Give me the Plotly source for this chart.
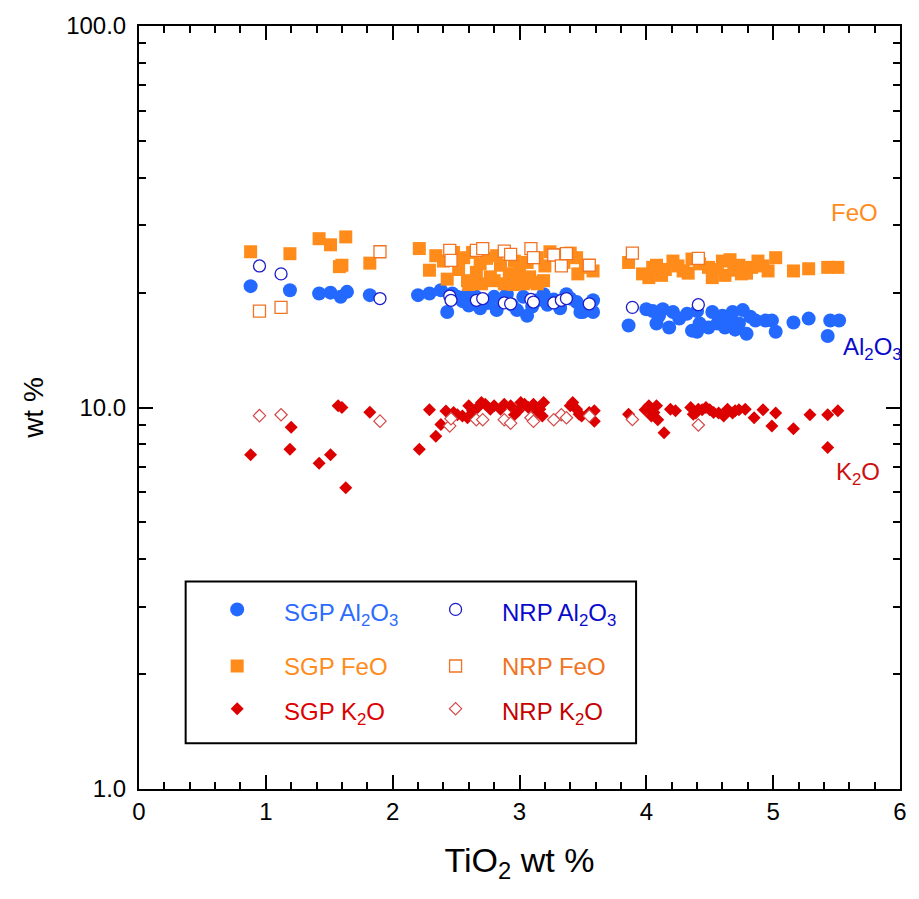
import plotly.graph_objects as go

# ---------------- data (wt %) ----------------
sgp_al_x = [0.88, 1.19, 1.42, 1.51, 1.59, 1.64, 1.82,
            2.20, 2.29, 2.38, 2.43, 2.47, 2.51, 2.55, 2.59, 2.60, 2.65, 2.69, 2.75, 2.80,
            2.82, 2.86, 2.90, 2.94, 2.98, 3.03, 3.06, 3.10, 3.14, 3.19, 3.22, 3.27, 3.32,
            3.37, 3.40, 3.45, 3.48, 3.50, 3.53, 3.58, 3.58,
            3.86, 4.00, 4.05, 4.08, 4.10, 4.13, 4.18, 4.21, 4.26, 4.32, 4.36, 4.40, 4.40,
            4.42, 4.49, 4.52, 4.56, 4.60, 4.62, 4.65, 4.68, 4.70, 4.73, 4.76, 4.79, 4.82,
            4.86, 4.94, 4.99, 5.02, 5.16, 5.28, 5.43, 5.45, 5.52]
sgp_al_y = [20.8, 20.3, 19.9, 20.0, 19.5, 20.1, 19.7,
            19.7, 19.9, 20.3, 17.8, 19.9, 19.5, 19.0, 19.8, 18.5, 19.6, 18.2, 18.8, 19.5,
            18.0, 19.2, 19.8, 18.6, 18.0, 19.5, 17.4, 18.4, 19.1, 19.8, 18.6, 19.2, 18.2,
            19.8, 19.3, 18.9, 17.8, 17.8, 18.4, 19.1, 17.8,
            16.4, 18.1, 17.9, 16.6, 17.4, 18.1, 16.2, 17.8, 17.1, 17.6, 15.9, 17.9, 15.8,
            16.6, 16.2, 17.8, 16.6, 17.4, 16.2, 17.0, 17.8, 16.0, 16.6, 18.0, 15.6, 17.3,
            16.9, 16.9, 16.9, 15.8, 16.7, 17.1, 15.4, 16.9, 16.9]

sgp_fe_x = [0.88, 1.19, 1.42, 1.51, 1.63, 1.58, 1.60, 1.82,
            2.21, 2.29, 2.34, 2.40, 2.43, 2.48, 2.52, 2.56, 2.59, 2.60, 2.63, 2.66, 2.69,
            2.70, 2.74, 2.77, 2.80, 2.82, 2.85, 2.88, 2.92, 2.95, 2.96, 2.98, 3.00, 3.03,
            3.06, 3.08, 3.10, 3.14, 3.14, 3.19, 3.20, 3.24, 3.29, 3.35, 3.40, 3.45, 3.46,
            3.52, 3.58,
            3.86, 3.97, 4.02, 4.05, 4.08, 4.12, 4.15, 4.21, 4.25, 4.29, 4.33, 4.36, 4.42,
            4.49, 4.52, 4.56, 4.60, 4.62, 4.66, 4.69, 4.73, 4.75, 4.79, 4.83, 4.88, 4.92,
            4.96, 5.02, 5.16, 5.28, 5.43, 5.51]
sgp_fe_y = [25.6, 25.3, 27.7, 26.7, 28.0, 23.4, 23.6, 23.9,
            26.1, 22.9, 25.0, 24.2, 21.7, 25.5, 23.0, 24.7, 21.5, 21.0, 25.5, 22.6, 23.8,
            21.1, 24.6, 22.0, 21.5, 25.0, 23.6, 21.1, 22.4, 21.0, 24.2, 21.5, 23.0, 21.1,
            24.0, 22.0, 21.3, 24.7, 21.1, 21.5, 23.5, 25.6, 25.2, 24.0, 25.4, 24.7, 22.4,
            23.3, 22.8,
            24.0, 22.4, 21.9, 23.3, 23.6, 22.2, 23.0, 24.2, 23.5, 22.8, 22.5, 24.5, 23.8,
            23.3, 21.9, 23.0, 24.2, 22.2, 24.4, 22.9, 23.6, 22.4, 22.5, 23.3, 24.2, 23.5,
            22.8, 24.7, 22.8, 23.1, 23.3, 23.3]

sgp_k_x = [0.88, 1.19, 1.20, 1.42, 1.51, 1.57, 1.60, 1.63, 1.82,
           2.21, 2.29, 2.34, 2.38, 2.42, 2.48, 2.51, 2.55, 2.59, 2.60, 2.63, 2.67, 2.70,
           2.73, 2.77, 2.80, 2.85, 2.88, 2.93, 2.96, 2.99, 3.01, 3.04, 3.07, 3.11, 3.13,
           3.16, 3.18, 3.19, 3.40, 3.42, 3.45, 3.47, 3.49, 3.55, 3.59, 3.59,
           3.86, 3.99, 4.02, 4.04, 4.06, 4.08, 4.09, 4.14, 4.19, 4.23, 4.35, 4.37, 4.39,
           4.41, 4.44, 4.47, 4.50, 4.53, 4.57, 4.61, 4.64, 4.68, 4.70, 4.73, 4.78, 4.85,
           4.92, 4.99, 5.02, 5.16, 5.29, 5.43, 5.43, 5.51]
sgp_k_y = [7.52, 7.77, 8.88, 7.14, 7.52, 10.1, 10.0, 6.16, 9.72,
           7.77, 9.87, 8.41, 9.02, 9.79, 9.70, 9.57, 9.50, 9.40, 10.1, 9.80, 10.0, 10.3,
           10.2, 9.90, 10.1, 9.90, 10.2, 10.1, 9.57, 9.80, 10.3, 10.2, 10.0, 10.2, 9.70,
           9.90, 9.50, 10.3, 10.1, 10.3, 9.90, 9.60, 9.50, 9.70, 9.80, 9.21,
           9.60, 9.87, 10.1, 9.50, 9.70, 10.1, 9.29, 8.59, 9.90, 9.80, 10.0, 9.60, 9.67,
           9.90, 9.87, 10.0, 9.87, 9.70, 9.67, 9.50, 9.90, 9.67, 9.80, 9.87, 9.90, 9.40,
           9.87, 8.94, 9.67, 8.80, 9.57, 9.57, 7.85, 9.80]

nrp_x = [0.95, 1.12, 1.90, 2.45, 2.46, 2.66, 2.71, 2.88, 2.93, 3.09, 3.11, 3.27, 3.33,
         3.37, 3.55, 3.89, 4.41]
nrp_al = [23.5, 22.4, 19.3, 19.6, 19.1, 19.1, 19.3, 18.8, 18.7, 19.2, 18.9, 18.8, 19.1,
          19.3, 18.7, 18.3, 18.6]
nrp_fe = [17.9, 18.3, 25.6, 25.8, 24.3, 25.8, 26.1, 25.7, 25.2, 26.1, 24.7, 25.1, 23.5,
          25.3, 23.6, 25.4, 24.6]
nrp_k = [9.52, 9.57, 9.21, 8.95, 9.35, 9.29, 9.29, 9.29, 9.10, 9.40, 9.20, 9.29, 9.57,
         9.40, 9.50, 9.30, 9.00]

x_ticks = [0, 1, 2, 3, 4, 5, 6]
y_ticks = [1, 10, 100]
y_ticktext = ["1.0", "10.0", "100.0"]
y_minor = [2, 3, 4, 5, 6, 7, 8, 9, 20, 30, 40, 50, 60, 70, 80, 90]

# ---------------- styles ----------------
FONT = "Arial, Liberation Sans, sans-serif"
C_AL = "#2469FF"
C_AL_OPEN = "#1C1CC8"
C_FE = "#FF8C1A"
C_FE_OPEN = "#F07424"
C_K = "#DD0000"
C_K_OPEN = "#D44848"

series = [
    dict(name="SGP Al<sub>2</sub>O<sub>3</sub>", x=sgp_al_x, y=sgp_al_y,
         marker=dict(symbol="circle", size=14, color=C_AL, line=dict(width=0)),
         text_color="#2D6BFF"),
    dict(name="SGP FeO", x=sgp_fe_x, y=sgp_fe_y,
         marker=dict(symbol="square", size=13, color=C_FE, line=dict(width=0)),
         text_color=C_FE),
    dict(name="SGP K<sub>2</sub>O", x=sgp_k_x, y=sgp_k_y,
         marker=dict(symbol="diamond", size=10, color=C_K, line=dict(width=0)),
         text_color=C_K),
    dict(name="NRP Al<sub>2</sub>O<sub>3</sub>", x=nrp_x, y=nrp_al,
         marker=dict(symbol="circle", size=12, color="white",
                     line=dict(width=1.3, color=C_AL_OPEN)),
         text_color="#0A0ACC"),
    dict(name="NRP FeO", x=nrp_x, y=nrp_fe,
         marker=dict(symbol="square", size=12, color="white",
                     line=dict(width=1.3, color=C_FE_OPEN)),
         text_color=C_FE_OPEN),
    dict(name="NRP K<sub>2</sub>O", x=nrp_x, y=nrp_k,
         marker=dict(symbol="diamond", size=9.5, color="white",
                     line=dict(width=1.2, color=C_K_OPEN)),
         text_color="#C40000"),
]

fig = go.Figure()
for s in series:
    fig.add_trace(go.Scatter(x=s["x"], y=s["y"], mode="markers", name=s["name"],
                             marker=s["marker"], showlegend=False, cliponaxis=False))

# ---------------- legend (two columns, boxed) ----------------
# key positions in plot-area fractions
leg_cols = [0.129, 0.416]
leg_text_cols = [0.188, 0.475]
leg_rows = [0.2354, 0.1612, 0.1053]
order = [(0, 0, 0), (3, 0, 1), (1, 1, 0), (4, 1, 1), (2, 2, 0), (5, 2, 1)]
for idx, r, c in order:
    s = series[idx]
    fig.add_trace(go.Scatter(x=[leg_cols[c]], y=[leg_rows[r]], mode="markers",
                             marker=s["marker"], xaxis="x2", yaxis="y2",
                             showlegend=False, hoverinfo="skip"))
    has_sub = "<sub>" in s["name"]
    fig.add_annotation(x=leg_text_cols[c], y=leg_rows[r], xref="paper", yref="paper",
                       text=s["name"], showarrow=False, xanchor="left", yanchor="middle",
                       yshift=-5 if has_sub else 0,
                       font=dict(family=FONT, size=24, color=s["text_color"]))

fig.add_shape(type="rect", xref="paper", yref="paper", x0=0.0613, x1=0.6532,
              y0=0.0598, y1=0.2718, line=dict(color="black", width=2),
              fillcolor="rgba(0,0,0,0)")

# ---------------- oxide labels ----------------
labels = [
    ("FeO", 0.907, 0.755, C_FE),
    ("Al<sub>2</sub>O<sub>3</sub>", 0.922, 0.577, "#0A0ACC"),
    ("K<sub>2</sub>O", 0.913, 0.413, "#CC1010"),
]
for txt, lx, ly, col in labels:
    fig.add_annotation(x=lx, y=ly, xref="paper", yref="paper", text=txt,
                       showarrow=False, xanchor="left", yanchor="middle",
                       font=dict(family=FONT, size=24, color=col))

axis_common = dict(showline=True, linecolor="black", linewidth=2, mirror="ticks",
                   ticks="inside", ticklen=14, tickwidth=1.5, tickcolor="black",
                   showgrid=False, zeroline=False)

fig.update_layout(
    width=919, height=899,
    margin=dict(l=139, r=13, t=20, b=110),
    plot_bgcolor="white", paper_bgcolor="white",
    showlegend=False,
    font=dict(family=FONT, color="black"),
    xaxis=dict(range=[0, 6], tickvals=x_ticks,
               tickfont=dict(size=24, family=FONT),
               minor=dict(dtick=0.2, tick0=0, ticks="inside", ticklen=7,
                          tickwidth=1.5, tickcolor="black"),
               title=dict(text="TiO<sub>2</sub> wt %", font=dict(size=34, family=FONT),
                          standoff=24),
               **axis_common),
    yaxis=dict(type="log", range=[0, 2], tickvals=y_ticks, ticktext=y_ticktext,
               tickfont=dict(size=24, family=FONT), ticklabelstandoff=6,
               minor=dict(tickvals=y_minor, ticks="inside", ticklen=7,
                          tickwidth=1.5, tickcolor="black"),
               title=dict(text="wt %", font=dict(size=28, family=FONT), standoff=14),
               **axis_common),
    xaxis2=dict(overlaying="x", range=[0, 1], visible=False),
    yaxis2=dict(overlaying="y", range=[0, 1], visible=False),
)

fig.write_html("out.html")
